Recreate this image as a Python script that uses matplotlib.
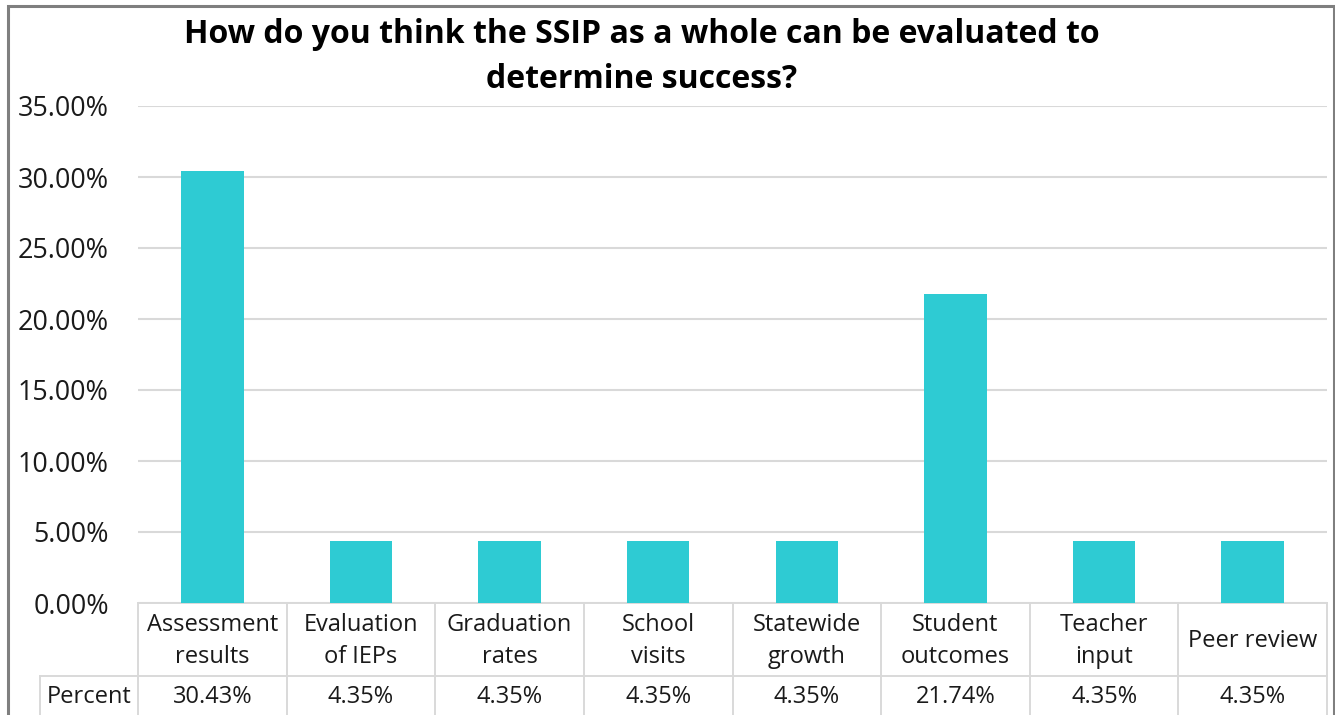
import matplotlib
matplotlib.use("Agg")
import matplotlib.pyplot as plt
from matplotlib.patches import Rectangle
from matplotlib.lines import Line2D

categories = ["Assessment\nresults", "Evaluation\nof IEPs", "Graduation\nrates", "School\nvisits",
              "Statewide\ngrowth", "Student\noutcomes", "Teacher\ninput", "Peer review"]
values = [30.43, 4.35, 4.35, 4.35, 4.35, 21.74, 4.35, 4.35]
value_labels = ["30.43%", "4.35%", "4.35%", "4.35%", "4.35%", "21.74%", "4.35%", "4.35%"]
yticks = [0, 5, 10, 15, 20, 25, 30, 35]
title = "How do you think the SSIP as a whole can be evaluated to\ndetermine success?"
row_label = "Percent"

plt.rcParams['font.family'] = ['Open Sans', 'DejaVu Sans']

W, H = 1335, 715
fig = plt.figure(figsize=(W / 100, H / 100), dpi=100)

def fx(px):
    return px / W

def fy(py):
    return 1 - py / H

# outer border
fig.patches.append(Rectangle((fx(8), fy(740)), fx(1334) - fx(8), fy(6) - fy(740),
                             transform=fig.transFigure, fill=False, edgecolor='#7f7f7f',
                             linewidth=2.2, clip_on=False))

left, right, top, bottom = 138, 1327, 106, 603
ax = fig.add_axes([fx(left), fy(bottom), fx(right) - fx(left), fy(top) - fy(bottom)])
n = len(categories)
ax.bar(range(n), values, width=0.42, color='#2ECBD3', zorder=3)
ax.set_xlim(-0.5, n - 0.5)
ax.set_ylim(0, 35)
ax.set_yticks(yticks)
ax.set_yticklabels([f"{t:.2f}%" for t in yticks], fontsize=19.4, color='#1a1a1a')
ax.tick_params(axis='y', length=0, pad=21)
ax.set_xticks([])
ax.grid(axis='y', color='#d9d9d9', linewidth=1.5, zorder=0)
for s in ax.spines.values():
    s.set_visible(False)

# data table
ah = bottom - top
def ay(py):
    return (bottom - py) / ah

tr = ax.get_xaxis_transform()
lc = '#d9d9d9'
lw = 1.4
y0 = ay(603)
y1 = ay(676)
y2 = ay(760)
ax.add_line(Line2D([-0.5, n - 0.5], [y0, y0], transform=tr, color=lc, lw=lw, clip_on=False))
ax.add_line(Line2D([-0.5, n - 0.5], [y1, y1], transform=tr, color=lc, lw=lw, clip_on=False))
for i in range(n + 1):
    x = i - 0.5
    ax.add_line(Line2D([x, x], [y0, y2], transform=tr, color=lc, lw=lw, clip_on=False))
# row label cell
ax.add_line(Line2D([fx(40), fx(left)], [fy(676), fy(676)], transform=fig.transFigure,
                   color=lc, lw=lw, clip_on=False))
ax.add_line(Line2D([fx(40), fx(40)], [fy(676), fy(760)], transform=fig.transFigure,
                   color=lc, lw=lw, clip_on=False))

for i, (c, v) in enumerate(zip(categories, value_labels)):
    ax.text(i, ay(641), c, transform=tr, ha='center', va='center', fontsize=17,
            color='#1a1a1a', linespacing=1.45, clip_on=False)
    ax.text(i, ay(697), v, transform=tr, ha='center', va='center', fontsize=17,
            color='#1a1a1a', clip_on=False)
fig.text(fx(89), fy(697), row_label, ha='center', va='center', fontsize=17, color='#1a1a1a')

fig.text(fx(642), fy(57), title, ha='center', va='center', fontsize=23, fontweight='bold',
         color='black', linespacing=1.45)

fig.savefig("out.png", dpi=100)
